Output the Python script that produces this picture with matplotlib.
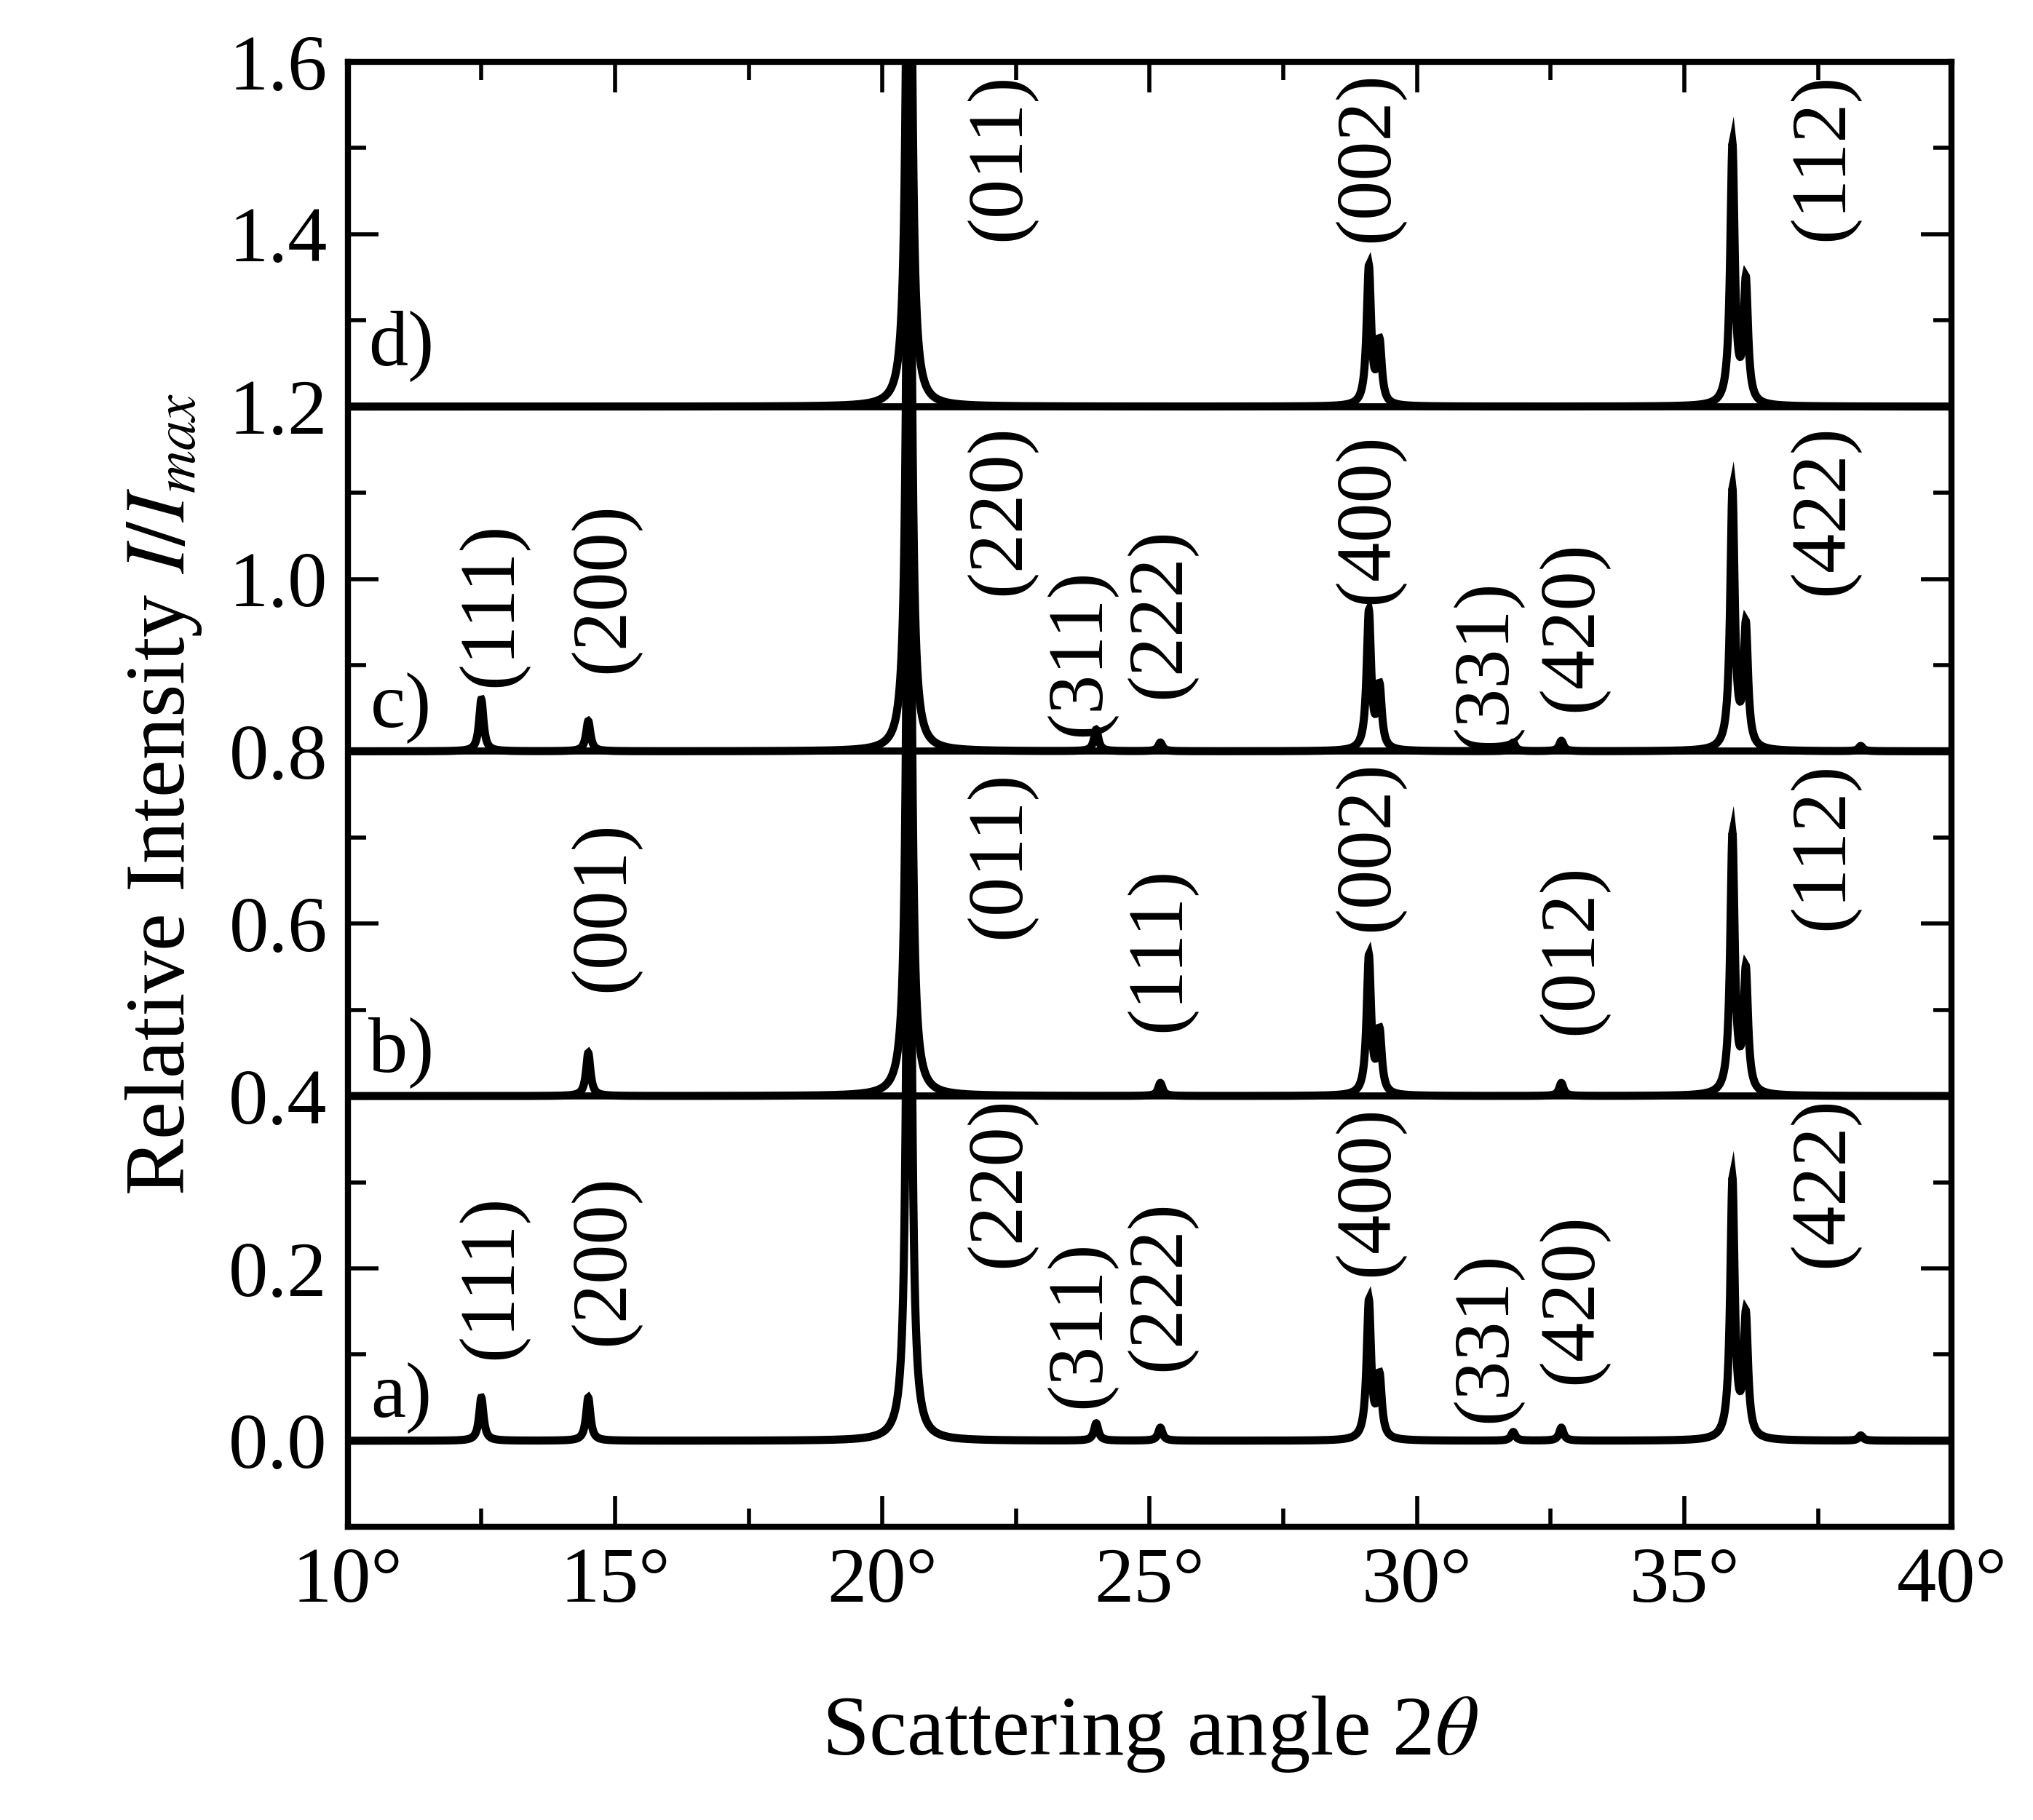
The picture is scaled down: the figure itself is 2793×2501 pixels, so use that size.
import numpy as np
import matplotlib
matplotlib.use("Agg")
import matplotlib.pyplot as plt
from matplotlib.ticker import MultipleLocator, FuncFormatter

plt.rcParams['font.family'] = ['Liberation Serif', 'DejaVu Serif']
plt.rcParams['mathtext.fontset'] = 'stix'

offsets = [0.0, 0.4, 0.8, 1.2]
peaks_a = [(12.5, 0.05), (14.5, 0.05), (20.5, 1.0), (24.0, 0.02), (25.2, 0.015), (29.1, 0.16), (29.3, 0.07),
           (31.8, 0.01), (32.7, 0.015), (35.9, 0.30), (36.15, 0.14), (38.3, 0.006)]
peaks_b = [(14.5, 0.05), (20.5, 1.0), (25.2, 0.015), (29.1, 0.16), (29.3, 0.07), (32.7, 0.015), (35.9, 0.30), (36.15, 0.14)]
peaks_c = [(12.5, 0.06), (14.5, 0.035), (20.5, 1.0), (24.0, 0.025), (25.2, 0.01), (29.1, 0.16), (29.3, 0.07),
           (31.8, 0.01), (32.7, 0.012), (35.9, 0.30), (36.15, 0.14), (38.3, 0.006)]
peaks_d = [(20.5, 1.0), (29.1, 0.16), (29.3, 0.07), (35.9, 0.30), (36.15, 0.14)]
panel_peaks = [peaks_a, peaks_b, peaks_c, peaks_d]
panel_names = ['a)', 'b)', 'c)', 'd)']
panel_name_y = [0.05, 0.45, 0.85, 1.27]

labels_a = [('(111)', 12.7, 0.19), ('(200)', 14.8, 0.21), ('(220)', 22.2, 0.30), ('(311)', 23.7, 0.135),
            ('(222)', 25.2, 0.18), ('(400)', 29.1, 0.29), ('(331)', 31.3, 0.12), ('(420)', 32.9, 0.165),
            ('(422)', 37.6, 0.30)]
labels_b = [('(001)', 14.8, 0.62), ('(011)', 22.2, 0.68), ('(111)', 25.2, 0.57), ('(002)', 29.1, 0.69),
            ('(012)', 32.9, 0.57), ('(112)', 37.6, 0.69)]
labels_c = [('(111)', 12.7, 0.97), ('(200)', 14.8, 0.99), ('(220)', 22.2, 1.08), ('(311)', 23.7, 0.915),
            ('(222)', 25.2, 0.96), ('(400)', 29.1, 1.07), ('(331)', 31.3, 0.90), ('(420)', 32.9, 0.945),
            ('(422)', 37.6, 1.08)]
labels_d = [('(011)', 22.2, 1.49), ('(002)', 29.1, 1.49), ('(112)', 37.6, 1.49)]

fig = plt.figure(figsize=(27.93, 25.01), dpi=100)
ax = fig.add_axes([0.171, 0.161, 0.789, 0.805])
x = np.linspace(10, 40, 8000)
w = 0.05
for off, pk in zip(offsets, panel_peaks):
    y = np.zeros_like(x)
    for c, h in pk:
        y += h / (1 + ((x - c) / w) ** 2)
    ax.plot(x, y + off, color='black', lw=8, solid_joinstyle='miter')
for yy in [0.4, 0.8, 1.2]:
    ax.axhline(yy, color='black', lw=7)
fs = 78
for nm, yy in zip(panel_names, panel_name_y):
    ax.text(11.0, yy, nm, fontsize=fs, ha='center', va='center')
for lab in [labels_a, labels_b, labels_c, labels_d]:
    for t, xx, yy in lab:
        ax.text(xx, yy, t, fontsize=fs, rotation=90, ha='center', va='center')

ax.set_xlim(10, 40)
ax.set_ylim(-0.1, 1.6)
ax.xaxis.set_major_locator(MultipleLocator(5))
ax.xaxis.set_minor_locator(MultipleLocator(2.5))
ax.yaxis.set_major_locator(MultipleLocator(0.2))
ax.yaxis.set_minor_locator(MultipleLocator(0.1))
ax.xaxis.set_major_formatter(FuncFormatter(lambda v, p: f"{v:.0f}°"))
ax.yaxis.set_major_formatter(FuncFormatter(lambda v, p: f"{v:.1f}"))
ax.tick_params(which='both', direction='in', top=True, right=True, width=4, labelsize=78, pad=20)
ax.tick_params(which='major', length=30)
ax.tick_params(which='minor', length=18)
for s in ax.spines.values():
    s.set_linewidth(6)
ax.set_xlabel(r'Scattering angle 2$\theta$', fontsize=84, labelpad=75)
ax.set_ylabel(r'Relative Intensity $I/I_{max}$', fontsize=84, labelpad=25)
fig.savefig('out.png', dpi=100)
